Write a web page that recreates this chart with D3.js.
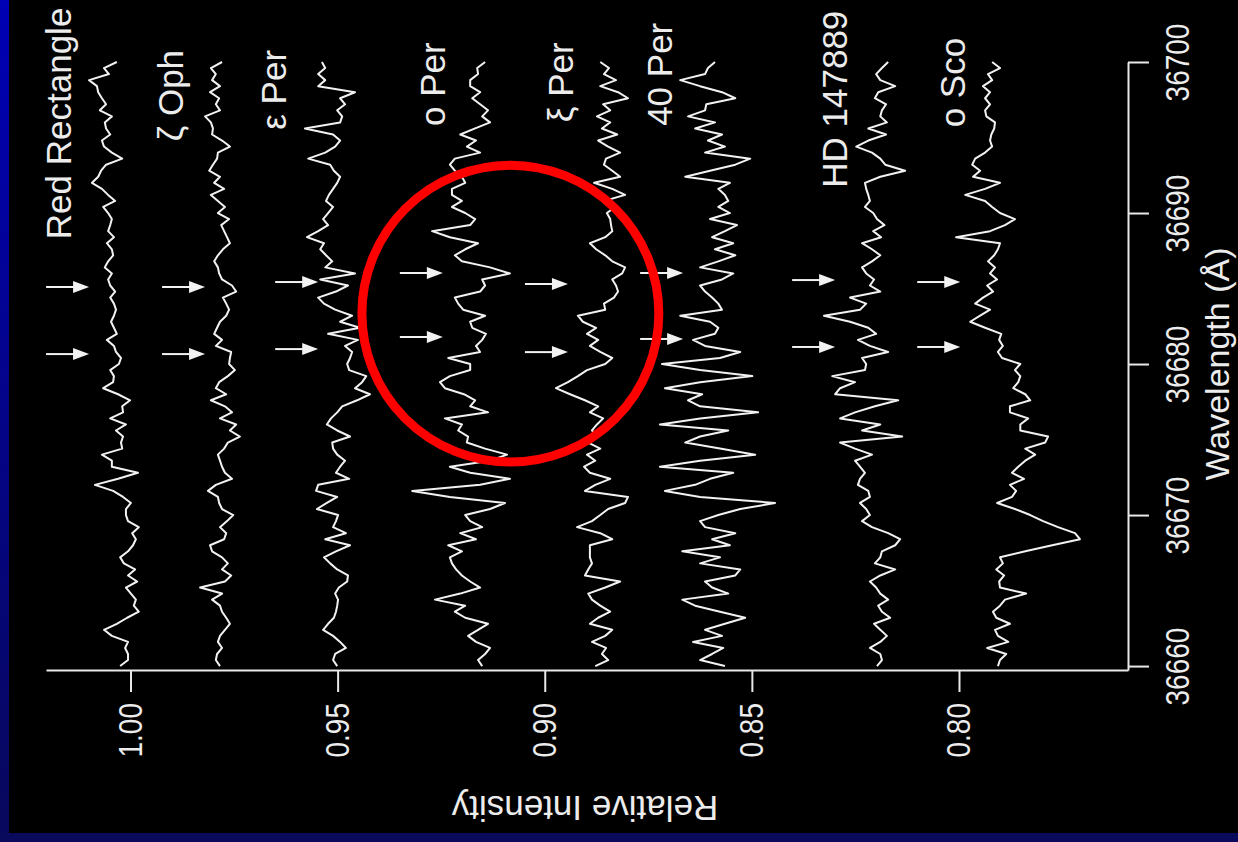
<!DOCTYPE html>
<html>
<head>
<meta charset="utf-8">
<script src="https://cdn.jsdelivr.net/npm/d3@7"></script>
<style>
  body { margin: 0; background: #000; }
  svg { display: block; }
  text { font-family: "Liberation Sans", Arial, sans-serif; fill: #ececec; }
</style>
</head>
<body>
<svg id="chart"></svg>
<script>
var width = 1238;
var height = 842;

// spectra sampled every 0.4 A from 36660 A (bottom) up to 36700 A (top)
var startWave = 36660;
var stepWave = 0.4;

var redRectangle = [1.0025,1.0006,1.0006,1.0013,1.0006,1.0045,1.0064,1.0033,1.0008,0.9980,
  0.9992,0.9987,0.9999,1.0011,0.9984,1.0006,0.9989,1.0016,1.0025,1.0006,
  0.9994,0.9987,0.9996,0.9980,1.0006,1.0011,1.0011,0.9999,1.0018,1.0042,
  1.0086,1.0030,0.9982,1.0045,1.0045,1.0069,1.0020,1.0023,1.0018,1.0035,
  1.0011,1.0049,1.0018,1.0020,1.0001,1.0030,1.0066,1.0042,1.0040,1.0049,
  1.0028,1.0023,1.0035,1.0040,1.0057,1.0033,1.0040,1.0047,1.0040,1.0035,
  1.0040,1.0049,1.0037,1.0049,1.0054,1.0045,1.0062,1.0054,1.0042,1.0045,
  1.0057,1.0040,1.0054,1.0049,1.0045,1.0054,1.0066,1.0037,1.0054,1.0069,
  1.0093,1.0078,1.0071,1.0059,1.0020,1.0045,1.0064,1.0069,1.0049,1.0059,
  1.0062,1.0045,1.0074,1.0059,1.0069,1.0078,1.0081,1.0100,1.0052,1.0064,
  1.0033];

var zetaOph = [0.9784,0.9794,0.9791,0.9779,0.9789,0.9784,0.9772,0.9760,0.9769,0.9779,
  0.9784,0.9803,0.9779,0.9832,0.9772,0.9757,0.9779,0.9765,0.9779,0.9803,
  0.9808,0.9774,0.9769,0.9784,0.9767,0.9752,0.9779,0.9786,0.9789,0.9813,
  0.9794,0.9755,0.9772,0.9779,0.9784,0.9789,0.9774,0.9765,0.9736,0.9760,
  0.9745,0.9784,0.9755,0.9772,0.9806,0.9769,0.9794,0.9786,0.9765,0.9748,
  0.9762,0.9760,0.9757,0.9794,0.9779,0.9798,0.9791,0.9784,0.9769,0.9762,
  0.9769,0.9777,0.9745,0.9755,0.9779,0.9786,0.9789,0.9798,0.9789,0.9777,
  0.9760,0.9767,0.9774,0.9781,0.9762,0.9789,0.9772,0.9789,0.9806,0.9774,
  0.9798,0.9784,0.9810,0.9801,0.9791,0.9789,0.9760,0.9779,0.9803,0.9801,
  0.9806,0.9820,0.9784,0.9794,0.9786,0.9808,0.9784,0.9803,0.9794,0.9806,
  0.9779];

var epsPer = [0.9501,0.9511,0.9506,0.9480,0.9494,0.9511,0.9535,0.9523,0.9509,0.9504,
  0.9501,0.9499,0.9506,0.9497,0.9477,0.9475,0.9501,0.9518,0.9533,0.9504,
  0.9470,0.9530,0.9480,0.9511,0.9504,0.9499,0.9550,0.9526,0.9501,0.9552,
  0.9547,0.9472,0.9504,0.9494,0.9482,0.9501,0.9511,0.9513,0.9470,0.9501,
  0.9526,0.9516,0.9501,0.9489,0.9453,0.9422,0.9458,0.9441,0.9431,0.9472,
  0.9477,0.9470,0.9465,0.9482,0.9451,0.9523,0.9446,0.9494,0.9465,0.9506,
  0.9533,0.9547,0.9504,0.9475,0.9542,0.9458,0.9530,0.9513,0.9528,0.9542,
  0.9533,0.9574,0.9547,0.9523,0.9535,0.9523,0.9511,0.9528,0.9521,0.9511,
  0.9501,0.9494,0.9509,0.9518,0.9571,0.9530,0.9506,0.9494,0.9511,0.9579,
  0.9494,0.9489,0.9501,0.9482,0.9494,0.9458,0.9547,0.9530,0.9547,0.9530,
  0.9538];

var omiPer = [0.9151,0.9161,0.9144,0.9132,0.9166,0.9185,0.9161,0.9137,0.9192,0.9217,
  0.9192,0.9265,0.9204,0.9156,0.9180,0.9200,0.9214,0.9224,0.9229,0.9200,
  0.9233,0.9166,0.9204,0.9151,0.9180,0.9192,0.9132,0.9096,0.9229,0.9320,
  0.9156,0.9084,0.9180,0.9229,0.9132,0.9091,0.9144,0.9188,0.9185,0.9209,
  0.9200,0.9241,0.9137,0.9180,0.9168,0.9195,0.9241,0.9253,0.9229,0.9180,
  0.9180,0.9233,0.9156,0.9166,0.9151,0.9142,0.9175,0.9180,0.9144,0.9197,
  0.9209,0.9217,0.9156,0.9144,0.9151,0.9084,0.9132,0.9200,0.9217,0.9192,
  0.9161,0.9229,0.9272,0.9180,0.9168,0.9192,0.9224,0.9200,0.9224,0.9224,
  0.9192,0.9200,0.9217,0.9229,0.9217,0.9156,0.9188,0.9166,0.9204,0.9168,
  0.9132,0.9151,0.9137,0.9156,0.9175,0.9156,0.9180,0.9180,0.9161,0.9163,
  0.9144];

var xiPer = [0.8878,0.8847,0.8862,0.8852,0.8886,0.8854,0.8837,0.8891,0.8871,0.8842,
  0.8866,0.8886,0.8895,0.8854,0.8818,0.8903,0.8895,0.8886,0.8891,0.8891,
  0.8891,0.8837,0.8866,0.8922,0.8886,0.8866,0.8847,0.8806,0.8799,0.8903,
  0.8878,0.8842,0.8891,0.8905,0.8878,0.8898,0.8866,0.8895,0.8871,0.8886,
  0.8874,0.8859,0.8891,0.8871,0.8903,0.8939,0.8973,0.8944,0.8920,0.8898,
  0.8854,0.8837,0.8866,0.8891,0.8871,0.8898,0.8876,0.8908,0.8920,0.8854,
  0.8857,0.8833,0.8823,0.8828,0.8837,0.8813,0.8806,0.8837,0.8854,0.8876,
  0.8891,0.8854,0.8837,0.8840,0.8842,0.8850,0.8830,0.8857,0.8806,0.8837,
  0.8881,0.8818,0.8837,0.8857,0.8852,0.8818,0.8847,0.8871,0.8825,0.8862,
  0.8842,0.8874,0.8842,0.8859,0.8799,0.8823,0.8866,0.8828,0.8857,0.8845,
  0.8866];

var per40 = [0.8565,0.8625,0.8596,0.8569,0.8642,0.8572,0.8613,0.8565,0.8516,0.8577,
  0.8637,0.8668,0.8557,0.8596,0.8613,0.8540,0.8528,0.8625,0.8577,0.8668,
  0.8553,0.8596,0.8540,0.8613,0.8625,0.8581,0.8528,0.8444,0.8625,0.8710,
  0.8637,0.8601,0.8545,0.8722,0.8625,0.8492,0.8577,0.8661,0.8625,0.8557,
  0.8722,0.8625,0.8485,0.8625,0.8654,0.8620,0.8710,0.8625,0.8499,0.8625,
  0.8717,0.8577,0.8528,0.8613,0.8642,0.8589,0.8581,0.8601,0.8673,0.8572,
  0.8581,0.8596,0.8613,0.8625,0.8572,0.8545,0.8625,0.8581,0.8540,0.8589,
  0.8545,0.8596,0.8565,0.8536,0.8601,0.8553,0.8581,0.8557,0.8565,0.8581,
  0.8553,0.8661,0.8601,0.8540,0.8504,0.8613,0.8565,0.8606,0.8572,0.8637,
  0.8589,0.8654,0.8613,0.8610,0.8540,0.8572,0.8625,0.8673,0.8613,0.8606,
  0.8589];

var hd147889 = [0.8198,0.8186,0.8190,0.8215,0.8190,0.8174,0.8190,0.8205,0.8166,0.8186,
  0.8195,0.8171,0.8190,0.8200,0.8215,0.8190,0.8154,0.8203,0.8190,0.8186,
  0.8154,0.8142,0.8171,0.8210,0.8234,0.8215,0.8224,0.8239,0.8215,0.8219,
  0.8244,0.8239,0.8227,0.8239,0.8251,0.8210,0.8251,0.8287,0.8137,0.8234,
  0.8190,0.8287,0.8251,0.8203,0.8147,0.8299,0.8287,0.8251,0.8306,0.8227,
  0.8224,0.8234,0.8171,0.8215,0.8244,0.8200,0.8219,0.8263,0.8326,0.8239,
  0.8224,0.8263,0.8190,0.8215,0.8205,0.8224,0.8234,0.8210,0.8190,0.8210,
  0.8234,0.8188,0.8207,0.8180,0.8198,0.8207,0.8227,0.8215,0.8219,0.8224,
  0.8227,0.8190,0.8130,0.8178,0.8190,0.8210,0.8248,0.8219,0.8176,0.8219,
  0.8174,0.8190,0.8186,0.8176,0.8203,0.8195,0.8154,0.8190,0.8200,0.8186,
  0.8171];

var omiSco = [0.7906,0.7901,0.7886,0.7932,0.7881,0.7906,0.7913,0.7877,0.7910,0.7918,
  0.7901,0.7889,0.7838,0.7901,0.7903,0.7891,0.7910,0.7894,0.7901,0.7840,
  0.7775,0.7708,0.7720,0.7761,0.7797,0.7828,0.7865,0.7908,0.7872,0.7862,
  0.7877,0.7843,0.7872,0.7857,0.7840,0.7816,0.7840,0.7792,0.7785,0.7852,
  0.7852,0.7833,0.7877,0.7877,0.7828,0.7840,0.7869,0.7857,0.7852,0.7865,
  0.7852,0.7896,0.7906,0.7894,0.7903,0.7898,0.7937,0.7973,0.7949,0.7925,
  0.7961,0.7942,0.7918,0.7932,0.7908,0.7925,0.7913,0.7930,0.7915,0.7906,
  0.7901,0.8007,0.7925,0.7889,0.7865,0.7901,0.7920,0.7937,0.7985,0.7937,
  0.7901,0.7966,0.7949,0.7968,0.7961,0.7937,0.7920,0.7925,0.7922,0.7915,
  0.7913,0.7934,0.7937,0.7925,0.7937,0.7925,0.7942,0.7920,0.7930,0.7901,
  0.7920];

var spectra = [redRectangle, zetaOph, epsPer, omiPer, xiPer, per40, hd147889, omiSco];
var stars = ["Red Rectangle", "ζ Oph", "ε Per", "ο Per", "ξ Per", "40 Per", "HD 147889", "ο Sco"];
// where each star name ends (top of the rotated text)
var labelWave = [36703.6, 36700.8, 36700.8, 36701.3, 36701.3, 36702.6, 36703.4, 36701.6];
var labelIntensity = [1.0144, 0.9873, 0.9625, 0.9241, 0.8932, 0.8693, 0.8270, 0.7985];
// band positions marked with arrows, per star
var arrowWave = [[36685.10, 36680.66], [36685.10, 36680.66], [36685.43, 36680.99], [36686.03, 36681.79],
  [36685.30, 36680.79], [36686.03, 36681.66], [36685.56, 36681.13], [36685.43, 36681.13]];
var arrowTip = [1.0100, 0.9820, 0.9547, 0.9246, 0.8944, 0.8666, 0.8299, 0.7997];

var waveTicks = [36660, 36670, 36680, 36690, 36700];
var intensityTicks = [1.00, 0.95, 0.90, 0.85, 0.80];

// red circle highlight (centre in data units, radius in Angstrom)
var ringWave = 36683.34;
var ringIntensity = 0.9083;
var ringRadius = 9.83;

var svg = d3.select("#chart")
    .attr("width", width)
    .attr("height", height);

var defs = svg.append("defs");
var grad = defs.append("linearGradient")
    .attr("id", "edge")
    .attr("x1", 0).attr("y1", 0).attr("x2", 0).attr("y2", 1);
grad.append("stop").attr("offset", "0%").attr("stop-color", "#0000b4");
grad.append("stop").attr("offset", "100%").attr("stop-color", "#08085c");

svg.append("rect").attr("width", width).attr("height", height).attr("fill", "#000");
svg.append("rect").attr("x", 0).attr("y", 0).attr("width", 9).attr("height", height).attr("fill", "url(#edge)");
svg.append("rect").attr("x", 0).attr("y", 833).attr("width", width).attr("height", 9).attr("fill", "#0a0a5c");

// the plot is turned on its side: wavelength runs up the page, intensity to the right
var xI = d3.scaleLinear()
    .domain([1.0204, 0.7592])
    .range([46, 1128]);

var yW = d3.scaleLinear()
    .domain([36659.74, 36700])
    .range([670, 62]);

var axisY = yW.range()[0];
var axisX = xI.range()[1];

var xAxis = d3.axisBottom(xI)
    .tickValues(intensityTicks)
    .tickFormat(d3.format(".2f"))
    .tickSize(22)
    .tickSizeOuter(0);

var yAxis = d3.axisRight(yW)
    .tickValues(waveTicks)
    .tickFormat(d3.format("d"))
    .tickSize(21)
    .tickSizeOuter(0);

var gx = svg.append("g")
    .attr("transform", "translate(0," + axisY + ")")
    .style("color", "#e8e8e8")
    .call(xAxis);
gx.selectAll("path, line").attr("stroke-width", 2);
gx.selectAll(".tick text")
    .attr("x", 0).attr("y", 0).attr("dy", null)
    .attr("text-anchor", "end")
    .style("font-size", "28px")
    .attr("transform", "translate(11,33) rotate(-90) scale(1,1.2)");

var gy = svg.append("g")
    .attr("transform", "translate(" + axisX + ",0)")
    .style("color", "#e8e8e8")
    .call(yAxis);
gy.selectAll("path, line").attr("stroke-width", 2);
gy.selectAll(".tick text")
    .attr("x", 0).attr("y", 0).attr("dy", null)
    .attr("text-anchor", "middle")
    .style("font-size", "28px")
    .attr("transform", "translate(61,0) rotate(-90) scale(1,1.2)");

svg.append("text")
    .attr("transform", "translate(585,796) rotate(180)")
    .attr("text-anchor", "middle")
    .style("font-size", "35px")
    .text("Relative Intensity");

svg.append("text")
    .attr("transform", "translate(" + (axisX + 101) + "," + yW(36680) + ") rotate(-90)")
    .attr("text-anchor", "middle")
    .style("font-size", "34px")
    .text("Wavelength (Å)");

var line = d3.line()
    .x(function(d) { return xI(d); })
    .y(function(d, i) { return yW(startWave + i * stepWave); });

svg.append("g").selectAll("path")
    .data(spectra)
    .enter().append("path")
    .attr("d", line)
    .attr("fill", "none")
    .attr("stroke", "#f2f2f2")
    .attr("stroke-width", 2)
    .attr("stroke-linejoin", "round");

for (var i = 0; i < stars.length; i++) {
    svg.append("text")
        .attr("transform", "translate(" + xI(labelIntensity[i]) + "," + yW(labelWave[i]) + ") rotate(-90)")
        .attr("text-anchor", "end")
        .style("font-size", "35px")
        .text(stars[i]);

    for (var j = 0; j < 2; j++) {
        var tx = xI(arrowTip[i]);
        var ty = yW(arrowWave[i][j]);
        svg.append("line")
            .attr("x1", tx - 43).attr("x2", tx - 12)
            .attr("y1", ty).attr("y2", ty)
            .attr("stroke", "#f2f2f2")
            .attr("stroke-width", 2);
        svg.append("path")
            .attr("d", "M" + tx + "," + ty + "L" + (tx - 16) + "," + (ty - 6) + "L" + (tx - 16) + "," + (ty + 6) + "Z")
            .attr("fill", "#f2f2f2");
    }
}

svg.append("circle")
    .attr("cx", xI(ringIntensity))
    .attr("cy", yW(ringWave))
    .attr("r", yW(ringWave - ringRadius) - yW(ringWave))
    .attr("fill", "none")
    .attr("stroke", "#ff0000")
    .attr("stroke-width", 9);
</script>
</body>
</html>
